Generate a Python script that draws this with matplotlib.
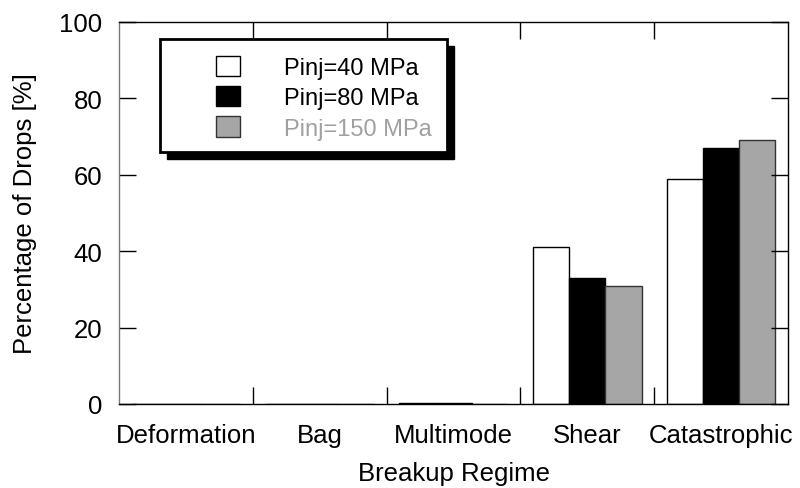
import numpy as np
import matplotlib.pyplot as plt
from matplotlib.patches import Rectangle

plt.rcParams['font.family'] = ['Liberation Sans', 'DejaVu Sans']

regimes = ['Deformation', 'Bag', 'Multimode', 'Shear', 'Catastrophic']
labels = ['Pinj=40 MPa', 'Pinj=80 MPa', 'Pinj=150 MPa']
p40 = [0, 0, 0.2, 41, 59]
p80 = [0, 0, 0.2, 33, 67]
p150 = [0, 0, 0, 31, 69]

fig = plt.figure(figsize=(8, 4.89), dpi=100)
ax = fig.add_axes([0.149, 0.172, 0.836, 0.781])

x = np.arange(len(regimes))
w = 0.27
b1 = ax.bar(x - w, p40, w, color='white', edgecolor='black', linewidth=1)
b2 = ax.bar(x, p80, w, color='black', edgecolor='black', linewidth=1)
b3 = ax.bar(x + w, p150, w, color='#a6a6a6', edgecolor='#333333', linewidth=1)

ax.set_xlim(-0.5, 4.5)
ax.set_ylim(0, 100)
ax.set_yticks(np.arange(0, 101, 20))
ax.set_xticks(x)
ax.set_xticklabels(regimes)
ax.set_xticks(x[:-1] + 0.5, minor=True)

ax.tick_params(axis='x', which='major', length=0, pad=14, labelsize=18.5)
ax.tick_params(axis='x', which='minor', direction='in', length=12, width=1,
               top=True, bottom=True)
ax.tick_params(axis='y', direction='in', length=12, width=1, right=True,
               pad=12, labelsize=18.5)
for s in ax.spines.values():
    s.set_linewidth(1)
ax.spines['left'].set_color('#777777')

ax.set_ylabel('Percentage of Drops [%]', fontsize=18.5, labelpad=16)
ax.set_xlabel('Breakup Regime', fontsize=18.5, labelpad=10)

# legend box with a hard drop shadow
bx, by, bw, bh = 0.0613, 0.6597, 0.4287, 0.2958
ax.add_patch(Rectangle((bx + 0.0105, by - 0.0183), bw, bh, transform=ax.transAxes,
                       facecolor='black', edgecolor='black', zorder=5))
ax.add_patch(Rectangle((bx, by), bw, bh, transform=ax.transAxes,
                       facecolor='white', edgecolor='black', linewidth=2, zorder=6))
leg = ax.legend([b1, b2, b3], labels, loc='center', bbox_to_anchor=(0.306, 0.802),
                frameon=False, fontsize=17, handlelength=1.0, handleheight=0.95,
                handletextpad=1.85, labelspacing=0.3, borderpad=0,
                labelcolor=['black', 'black', '#a0a0a0'])
leg.set_zorder(7)

fig.savefig('out.png', dpi=100)
